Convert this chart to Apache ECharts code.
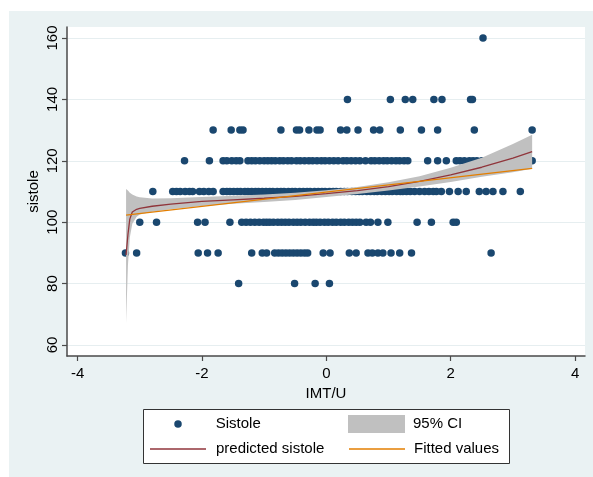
<!DOCTYPE html>
<html>
<head>
<meta charset="utf-8">
<script src="https://cdn.jsdelivr.net/npm/echarts@6.0.0/dist/echarts.min.js"></script>
<style>
html,body{margin:0;padding:0;background:#ffffff;}
#bg{position:absolute;left:9px;top:11px;width:584px;height:466px;background:#eaf2f3;}
#chart{position:absolute;left:0;top:0;width:593px;height:477px;}
</style>
</head>
<body>
<div id="bg"></div>
<div id="chart"></div>
<script>
// ---- Data ----
const xTicks = [-4, -2, 0, 2, 4];
const yTicks = [60, 80, 100, 120, 140, 160];

// Sistole observations: x values (IMT/U) for each sistole level
const rowLevels = [160, 140, 130, 120, 110, 100, 90, 80];
const x160 = [2.52];
const x140 = [0.34, 1.03, 1.27, 1.39, 1.73, 1.86, 2.32, 2.35];
const x130 = [-1.82, -1.53, -1.39, -1.34, -0.73, -0.48, -0.43, -0.28, -0.15, -0.10, 0.23, 0.33, 0.51, 0.76, 0.86, 1.19, 1.53, 1.79, 2.38, 3.31];
const x120 = [-2.28, -1.88, -1.66, -1.6, -1.52, -1.45, -1.39, -1.26, -1.2, -1.14, -1.07, -1.0, -0.94, -0.88, -0.82, -0.75, -0.69, -0.62, -0.56, -0.48, -0.42, -0.35, -0.28, -0.22, -0.15, -0.08, -0.02, 0.05, 0.12, 0.19, 0.27, 0.33, 0.4, 0.47, 0.54, 0.63, 0.72, 0.78, 0.85, 0.92, 0.98, 1.05, 1.12, 1.18, 1.25, 1.31, 1.63, 1.79, 1.93, 2.09, 2.15, 2.22, 2.3, 2.36, 2.42, 2.5, 2.58, 3.31];
const x110 = [-2.79, -2.47, -2.41, -2.35, -2.27, -2.2, -2.15, -2.04, -1.97, -1.89, -1.82, -1.66, -1.6, -1.55, -1.49, -1.43, -1.38, -1.31, -1.26, -1.2, -1.14, -1.09, -1.03, -0.97, -0.91, -0.86, -0.79, -0.73, -0.68, -0.61, -0.55, -0.5, -0.43, -0.37, -0.31, -0.26, -0.19, -0.13, -0.07, -0.02, 0.05, 0.11, 0.16, 0.23, 0.29, 0.34, 0.41, 0.47, 0.53, 0.58, 0.65, 0.71, 0.77, 0.82, 0.89, 0.95, 1.01, 1.06, 1.13, 1.19, 1.23, 1.29, 1.35, 1.42, 1.5, 1.58, 1.65, 1.72, 1.77, 1.85, 1.98, 2.12, 2.25, 2.46, 2.57, 2.68, 2.84, 3.12];
const x100 = [-3.0, -2.73, -2.07, -1.95, -1.55, -1.36, -1.29, -1.22, -1.15, -1.08, -1.01, -0.96, -0.91, -0.85, -0.78, -0.72, -0.66, -0.6, -0.53, -0.47, -0.41, -0.34, -0.27, -0.21, -0.16, -0.1, -0.03, 0.03, 0.1, 0.16, 0.23, 0.29, 0.36, 0.42, 0.48, 0.54, 0.64, 0.71, 0.83, 0.99, 1.46, 1.69, 2.04, 2.09];
const x90 = [-3.23, -3.05, -2.06, -1.91, -1.74, -1.2, -1.03, -0.96, -0.83, -0.77, -0.71, -0.65, -0.59, -0.53, -0.47, -0.41, -0.35, -0.3, -0.05, 0.06, 0.37, 0.48, 0.67, 0.74, 0.83, 0.91, 1.04, 1.18, 1.37, 2.65];
const x80 = [-1.41, -0.51, -0.18, 0.05];
const rowXs = [x160, x140, x130, x120, x110, x100, x90, x80];

// Fractional-polynomial prediction with 95% CI
const predX  = [-3.22, -3.19, -3.16, -3.12, -3.05, -3.0, -2.8, -2.5, -2.0, -1.5, -1.0, -0.5, 0, 0.5, 1.0, 1.5, 2.0, 2.5, 3.0, 3.31];
const predY  = [89.3, 96, 101, 103.3, 104.2, 104.5, 105.2, 105.9, 106.8, 107.3, 107.8, 108.4, 109.3, 110.3, 111.6, 113.3, 115.4, 117.9, 120.9, 123.0];
const ciLow  = [67, 86, 95, 99.5, 101.8, 102.5, 103.4, 104.2, 105.3, 106.0, 106.6, 107.2, 108.2, 109.2, 110.3, 111.6, 113.1, 114.8, 116.3, 117.4];
const ciHigh = [110.8, 110.3, 109.6, 109, 108.4, 108.1, 107.7, 107.8, 108.2, 108.6, 109.0, 109.6, 110.4, 111.5, 113.0, 115.0, 117.7, 121.0, 125.5, 128.5];

// Linear fitted values
const fitX = [-3.22, 3.31];
const fitY = [102.3, 117.5];

// ---- Build chart ----
const FONT = 'Liberation Sans, Arial, Helvetica, sans-serif';
const scatterData = [];
rowLevels.forEach((lv, i) => rowXs[i].forEach(x => scatterData.push([x, lv])));
const predData = predX.map((x, i) => [x, predY[i]]);
const ciData = predX.map((x, i) => [x, ciLow[i], ciHigh[i]]);
const fitData = fitX.map((x, i) => [x, fitY[i]]);

const chart = echarts.init(document.getElementById('chart'), null, {renderer: 'canvas'});
const axisColor = '#4a4a4a';
function legendText(padLeft) {
  return {fontFamily: FONT, fontSize: 15, color: '#000', lineHeight: 18, padding: [0, 0, 0, padLeft]};
}
const lineIcon = 'path://M0,0L56,0L56,1.3L0,1.3Z';
const option = {
  backgroundColor: 'transparent',
  animation: false,
  textStyle: {fontFamily: FONT},
  grid: {left: 67, right: 8, top: 27, bottom: 121, show: true, backgroundColor: '#ffffff', borderWidth: 0},
  xAxis: {
    type: 'value', min: -4.17, max: 4.16,
    name: 'IMT/U', nameLocation: 'middle', nameGap: 27,
    nameTextStyle: {fontFamily: FONT, fontSize: 15, color: '#000'},
    axisLine: {show: true, onZero: false, lineStyle: {color: axisColor, width: 1.5}},
    axisTick: {show: true, length: 5, customValues: xTicks, lineStyle: {color: axisColor, width: 1.2}},
    axisLabel: {customValues: xTicks, margin: 10, fontFamily: FONT, fontSize: 15, color: '#000'},
    splitLine: {show: false}
  },
  yAxis: {
    type: 'value', min: 56.42, max: 163.58,
    name: 'sistole', nameLocation: 'middle', nameGap: 26, nameRotate: 90, nameMoveOverlap: false,
    nameTextStyle: {fontFamily: FONT, fontSize: 15, color: '#000'},
    axisLine: {show: true, onZero: false, lineStyle: {color: axisColor, width: 1.5}},
    axisTick: {show: true, length: 5, customValues: yTicks, lineStyle: {color: axisColor, width: 1.2}},
    axisLabel: {customValues: yTicks, rotate: 90, margin: 7, fontFamily: FONT, fontSize: 15, color: '#000'},
    splitLine: {show: true, lineStyle: {color: '#e6eef0', width: 1}}
  },
  legend: [
    {data: ['Sistole'], left: 174.25, top: 415, padding: 0, itemWidth: 7.5, itemHeight: 7.5, icon: 'circle', textStyle: legendText(29), selectedMode: false},
    {data: ['predicted sistole'], left: 150, top: 440, padding: 0, itemWidth: 56, itemHeight: 1.3, icon: lineIcon, textStyle: legendText(5), selectedMode: false},
    {data: ['95% CI'], left: 348, top: 415, padding: 0, itemWidth: 57, itemHeight: 18, icon: 'rect', textStyle: legendText(3), selectedMode: false},
    {data: ['Fitted values'], left: 349, top: 440, padding: 0, itemWidth: 56, itemHeight: 1.3, icon: lineIcon, textStyle: legendText(4), selectedMode: false}
  ],
  graphic: [
    {type: 'rect', left: 143, top: 409, z: 0, shape: {width: 366, height: 54}, style: {fill: '#ffffff', stroke: '#333333', lineWidth: 1}}
  ],
  series: [
    {
      name: 'Sistole', type: 'scatter', data: scatterData, symbol: 'circle', symbolSize: 7.5,
      itemStyle: {color: '#1a476f', opacity: 1}, z: 2, silent: true
    },
    {
      name: '95% CI', type: 'custom', data: ciData, z: 3, silent: true,
      itemStyle: {color: '#c0c0c0'},
      encode: {x: 0, y: [1, 2]},
      renderItem: function (params, api) {
        if (params.dataIndex !== 0) return null;
        const pts = [];
        for (let i = 0; i < predX.length; i++) pts.push(api.coord([predX[i], ciHigh[i]]));
        for (let i = predX.length - 1; i >= 0; i--) pts.push(api.coord([predX[i], ciLow[i]]));
        return {type: 'polygon', shape: {points: pts, smooth: 0}, style: {fill: '#c0c0c0'}};
      }
    },
    {
      name: 'predicted sistole', type: 'line', data: predData, symbol: 'none', showSymbol: false,
      lineStyle: {color: '#90353b', width: 1.3}, itemStyle: {color: '#90353b'}, z: 4, silent: true
    },
    {
      name: 'Fitted values', type: 'line', data: fitData, symbol: 'none', showSymbol: false,
      lineStyle: {color: '#e37e00', width: 1.3}, itemStyle: {color: '#e37e00'}, z: 5, silent: true
    }
  ]
};
chart.setOption(option);
</script>
</body>
</html>
